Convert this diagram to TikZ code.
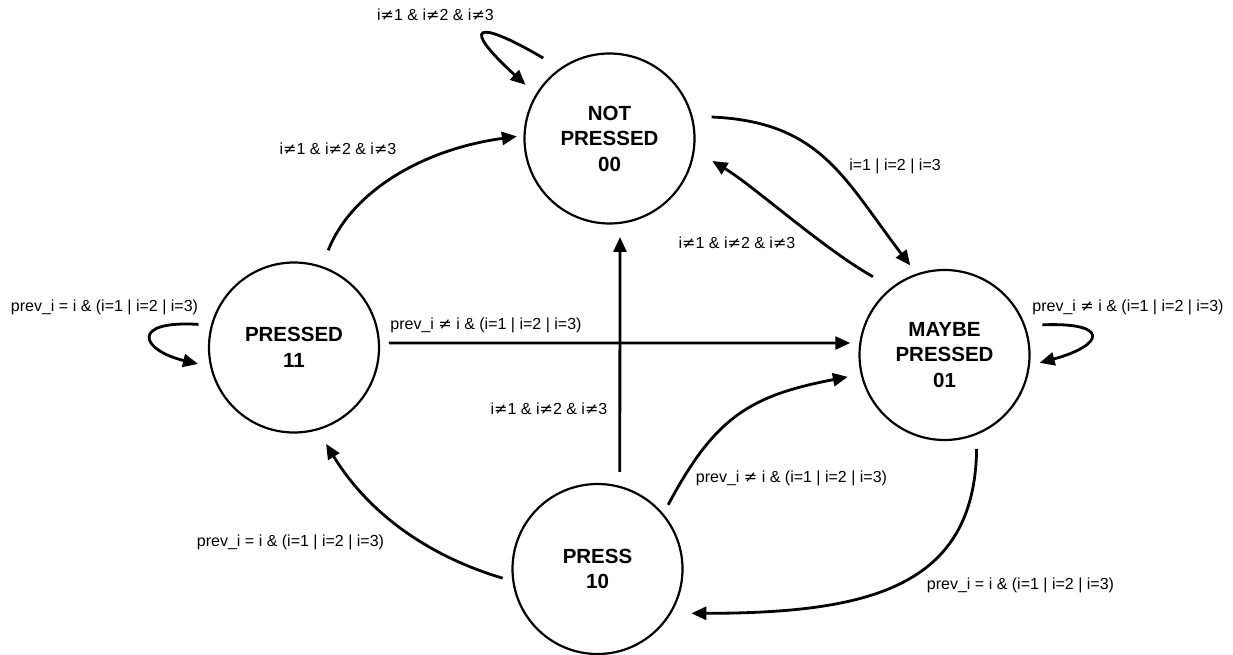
\documentclass[tikz,border=0pt]{standalone}
\usepackage{fontspec}
\setmainfont{Liberation Sans}
\newfontfamily\dvsymf{DejaVu Sans}
\usetikzlibrary{arrows.meta}
\newcommand\nq{{\dvsymf ≠}}
\begin{document}
\begin{tikzpicture}[x=1pt,y=-1pt,
  st/.style={circle, draw, line width=2.2pt, minimum size=170pt, inner sep=0pt, align=center,
    font=\bfseries\fontsize{20.5}{25.5}\selectfont},
  conn/.style={line width=2.8pt, -{Triangle[length=15pt,width=13pt]}},
  lbl/.style={anchor=base, inner sep=0pt, font=\fontsize{16}{19}\selectfont}]
\useasboundingbox (0,0) rectangle (1233,655);

\node[st] (NP) at (609.5,138.5) {NOT\\PRESSED\\00};
\node[st] (P)  at (294,347.5) {PRESSED\\11};
\node[st] (MP) at (944.5,355) {MAYBE\\PRESSED\\01};
\node[st] (PR) at (597.5,569) {PRESS\\10};

% edges
\draw[conn, shorten <=19.6pt, shorten >=13.8pt] (NP.125) .. controls (475,18) and (460,25) .. (NP.149);
\draw[conn, shorten <=17pt, shorten >=6.6pt] (P.71) .. controls (350,194.6) and (418,150) .. (NP.178);
\draw[conn, shorten <=18.9pt, shorten >=10.3pt] (NP.15) .. controls (820.6,121.6) and (843.8,178.5) .. (MP.109);
\draw[conn, shorten <=21.3pt, shorten >=20.5pt] (MP.128) .. controls (823,248.5) and (753,185.4) .. (NP.-8);
\draw[conn, shorten <=9pt, shorten >=9pt] (P.3) -- (MP.172);
\draw[conn, shorten <=14pt, shorten >=13pt] (PR.75) -- (NP.-83);
\draw[conn, shorten <=10pt, shorten >=13pt] (PR.40) .. controls (714.8,417.1) and (749.8,395.7) .. (MP.-167);
\draw[conn, shorten <=14pt, shorten >=20pt] (MP.-68) .. controls (975,588) and (867.6,613.2) .. (PR.-31);
\draw[conn, shorten <=10pt, shorten >=16pt] (PR.188) .. controls (426.5,555.6) and (367.5,511.8) .. (P.-74);
\draw[conn, shorten <=12.4pt, shorten >=12.4pt] (P.165) .. controls (130,320) and (140,350) .. (P.193);
\draw[conn, shorten <=17pt, shorten >=10pt] (MP.20) .. controls (1110,322) and (1105,345) .. (MP.-7);

% labels
\node[lbl] (l1) at (435.5,21) {i\nq1 \& i\nq2 \& i\nq3};
\node[lbl] (l2) at (338,155) {i\nq1 \& i\nq2 \& i\nq3};
\node[lbl] (l3) at (895,171) {i=1 | i=2 | i=3};
\node[lbl] (l4) at (737,248) {i\nq1 \& i\nq2 \& i\nq3};
\node[lbl] (l5) at (486,329) {prev\_i \nq{} i \& (i=1 | i=2 | i=3)};
\node[lbl] (l6) at (549,414) {i\nq1 \& i\nq2 \& i\nq3};
\node[lbl] (l7) at (791.5,482) {prev\_i \nq{} i \& (i=1 | i=2 | i=3)};
\node[lbl] (l8) at (1020.5,589) {prev\_i = i \& (i=1 | i=2 | i=3)};
\node[lbl] (l9) at (290.5,546) {prev\_i = i \& (i=1 | i=2 | i=3)};
\node[lbl] (l10) at (104.5,311) {prev\_i = i \& (i=1 | i=2 | i=3)};
\node[lbl] (l11) at (1128,311) {prev\_i \nq{} i \& (i=1 | i=2 | i=3)};
\end{tikzpicture}
\end{document}
